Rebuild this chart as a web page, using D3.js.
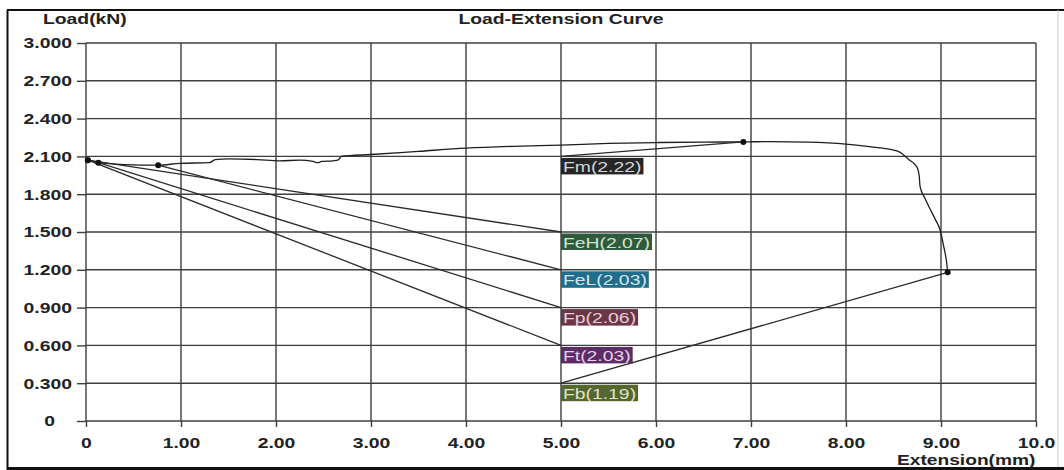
<!DOCTYPE html>
<html>
<head>
<meta charset="utf-8">
<script src="https://cdn.jsdelivr.net/npm/d3@7"></script>
<style>
  html, body { margin: 0; padding: 0; background: #fff; }
  svg { display: block; }
  text { font-family: "Liberation Sans", Arial, sans-serif; }
</style>
</head>
<body>
<svg id="chart" width="1064" height="470"></svg>
<script>
// ---------- data ----------
const curveX = [0.01, 0.02, 0.13, 0.40, 0.76, 0.99, 1.30, 1.36, 1.50, 1.80, 2.04, 2.25, 2.39, 2.44, 2.48, 2.60, 2.65, 2.69, 3.00, 3.50, 4.00, 4.50, 5.00, 5.50, 6.00, 6.50, 6.92, 7.20, 7.60, 8.00, 8.36, 8.55, 8.67, 8.72, 8.75, 8.77, 8.78, 8.83, 8.88, 8.94, 8.99, 9.03, 9.06, 9.07];
const curveLoad = [2.07, 2.07, 2.05, 2.035, 2.03, 2.045, 2.05, 2.075, 2.08, 2.075, 2.065, 2.07, 2.06, 2.05, 2.06, 2.065, 2.07, 2.10, 2.115, 2.14, 2.165, 2.18, 2.19, 2.203, 2.21, 2.214, 2.215, 2.218, 2.214, 2.198, 2.167, 2.14, 2.07, 2.04, 2.01, 1.95, 1.86, 1.77, 1.69, 1.60, 1.516, 1.38, 1.254, 1.18];

const yTicks = [0, 0.3, 0.6, 0.9, 1.2, 1.5, 1.8, 2.1, 2.4, 2.7, 3.0];
const yTickLabels = ["0", "0.300", "0.600", "0.900", "1.200", "1.500", "1.800", "2.100", "2.400", "2.700", "3.000"];
const xTicks = [0, 1, 2, 3, 4, 5, 6, 7, 8, 9, 10];
const xTickLabels = ["0", "1.00", "2.00", "3.00", "4.00", "5.00", "6.00", "7.00", "8.00", "9.00", "10.0"];

const markerNames  = ["Fm", "FeH", "FeL", "Fp", "Ft", "Fb"];
const markerValues = ["2.22", "2.07", "2.03", "2.06", "2.03", "1.19"];
const markerExt    = [6.92, 0.02, 0.76, 0.13, 0.02, 9.07];
const markerLoad   = [2.215, 2.07, 2.03, 2.05, 2.07, 1.18];
const labelExt     = [5, 5, 5, 5, 5, 5];
const labelLoad    = [2.1, 1.5, 1.2, 0.9, 0.6, 0.3];
const labelFill    = ["#262626", "#2f5b3c", "#226c8b", "#6a3646", "#5b2d64", "#56662f"];
const labelInk     = ["#d6d6d6", "#cfe3d2", "#d4e6ef", "#ecd0d7", "#e6d0ea", "#dfe3c6"];

const titleText = "Load-Extension Curve";
const yTitle = "Load(kN)";
const xTitle = "Extension(mm)";

// ---------- layout ----------
const SX = 1.29; // horizontal stretch of the original print
const svg = d3.select("#chart");
const x = d3.scaleLinear().domain([0, 10]).range([86, 1036]);
const y = d3.scaleLinear().domain([0, 3]).range([421, 43]);

function stretch(sel) {
  sel.each(function () {
    const t = d3.select(this);
    const tx = +t.attr("x") || 0;
    const ty = +t.attr("y") || 0;
    t.attr("x", 0).attr("y", 0).attr("transform", `translate(${tx},${ty}) scale(${SX},1)`);
  });
}

svg.append("rect").attr("x", 0).attr("y", 0).attr("width", 1064).attr("height", 470).attr("fill", "#fff");

// grid
const gridColor = "#3e3e3e";
svg.append("g").selectAll("line").data(yTicks).join("line")
  .attr("x1", x(0)).attr("x2", x(10))
  .attr("y1", d => y(d)).attr("y2", d => y(d))
  .attr("stroke", gridColor).attr("stroke-width", 1.4);
svg.append("g").selectAll("line").data(xTicks).join("line")
  .attr("x1", d => x(d)).attr("x2", d => x(d))
  .attr("y1", y(0)).attr("y2", y(3))
  .attr("stroke", gridColor).attr("stroke-width", 1.4);

// axes
const yAxis = svg.append("g").attr("transform", `translate(${x(0)},0)`)
  .call(d3.axisLeft(y).tickValues(yTicks).tickFormat((d, i) => yTickLabels[i]).tickSize(9).tickPadding(5));
const xAxis = svg.append("g").attr("transform", `translate(0,${y(0)})`)
  .call(d3.axisBottom(x).tickValues(xTicks).tickFormat((d, i) => xTickLabels[i]).tickSize(6).tickPadding(10));
[yAxis, xAxis].forEach(a => {
  a.select(".domain").remove();
  a.selectAll(".tick line").attr("stroke", gridColor).attr("stroke-width", 1.4);
  a.selectAll(".tick text").attr("font-size", 15).attr("font-weight", "bold").attr("fill", "#222")
    .attr("font-family", "'Liberation Sans', Arial, sans-serif");
});
yAxis.selectAll(".tick text").filter(d => d === 0).attr("x", -31);
stretch(yAxis.selectAll(".tick text"));
stretch(xAxis.selectAll(".tick text"));

// titles
svg.append("text").attr("x", 561).attr("y", 24).attr("text-anchor", "middle")
  .attr("font-size", 15).attr("font-weight", "bold").attr("fill", "#222").text(titleText).call(stretch);
svg.append("text").attr("x", 43).attr("y", 24).attr("text-anchor", "start")
  .attr("font-size", 15).attr("font-weight", "bold").attr("fill", "#222").text(yTitle).call(stretch);
svg.append("text").attr("x", 897).attr("y", 465).attr("text-anchor", "start")
  .attr("font-size", 14).attr("font-weight", "bold").attr("fill", "#222").text(xTitle)
  .each(function () {
    d3.select(this).attr("x", 0).attr("y", 0).attr("transform", `translate(897,465) scale(1.37,1)`);
  });

// curve
const pts = curveX.map((v, i) => [v, curveLoad[i]]);
svg.append("path").datum(pts)
  .attr("d", d3.line().x(d => x(d[0])).y(d => y(d[1])).curve(d3.curveMonotoneX))
  .attr("fill", "none").attr("stroke", "#1e1e1e").attr("stroke-width", 1.3);

// leader lines
const idx = markerNames.map((d, i) => i);
svg.append("g").selectAll("line").data(idx).join("line")
  .attr("x1", i => x(markerExt[i])).attr("y1", i => y(markerLoad[i]))
  .attr("x2", i => x(labelExt[i])).attr("y2", i => y(labelLoad[i]))
  .attr("stroke", "#2a2a2a").attr("stroke-width", 1.3);

// dots
svg.append("g").selectAll("circle").data(idx).join("circle")
  .attr("cx", i => x(markerExt[i])).attr("cy", i => y(markerLoad[i])).attr("r", 3)
  .attr("fill", "#111");

// labels
const lab = svg.append("g").selectAll("g").data(idx).join("g");
lab.each(function (i) {
  const g = d3.select(this);
  const lx = x(labelExt[i]);
  const ly = y(labelLoad[i]);
  const r = g.append("rect").attr("fill", labelFill[i]);
  const t = g.append("text").attr("x", lx + 2).attr("y", ly + 15.5)
    .attr("font-size", 15).attr("fill", labelInk[i])
    .text(`${markerNames[i]}(${markerValues[i]})`).call(stretch);
  const w = t.node().getBBox().width * SX;
  r.attr("x", lx).attr("y", ly + 1.5).attr("width", w + 4).attr("height", 16.5);
});

// outer frame
svg.append("line").attr("x1", 7).attr("x2", 1064).attr("y1", 10).attr("y2", 10).attr("stroke", "#111").attr("stroke-width", 2);
svg.append("line").attr("x1", 7.5).attr("x2", 7.5).attr("y1", 10).attr("y2", 470).attr("stroke", "#111").attr("stroke-width", 2);
svg.append("line").attr("x1", 1058).attr("x2", 1058).attr("y1", 10).attr("y2", 467).attr("stroke", "#c8c8c8").attr("stroke-width", 1);
svg.append("rect").attr("x", 7).attr("y", 467).attr("width", 1057).attr("height", 3).attr("fill", "#111");
</script>
</body>
</html>
